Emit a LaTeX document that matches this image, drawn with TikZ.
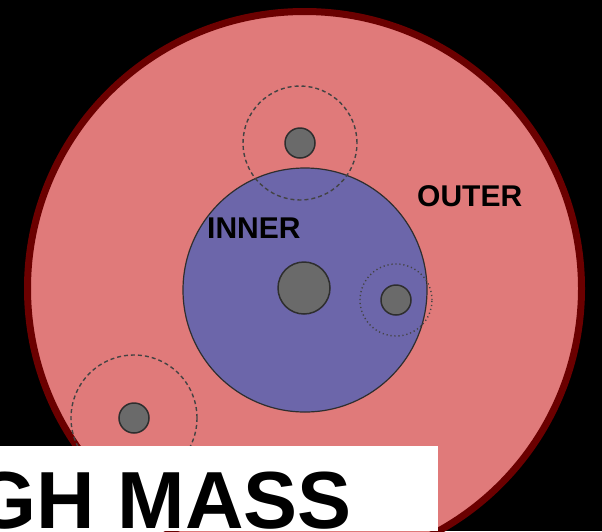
\documentclass[tikz,border=0pt]{standalone}
\usepackage{fontspec}
\setmainfont{Liberation Sans}
\usetikzlibrary{positioning}
\definecolor{ShellRed}{HTML}{E07A7A}
\definecolor{ShellEdge}{HTML}{6B0000}
\definecolor{CoreBlue}{HTML}{6C66AA}
\definecolor{BodyGray}{HTML}{6A6A6A}
\definecolor{LineDark}{HTML}{2E2E2E}
\tikzset{
  shell/.style={circle, draw=ShellEdge, fill=ShellRed, line width=7pt, inner sep=0pt},
  core/.style={circle, draw=LineDark, fill=CoreBlue, line width=1.2pt, inner sep=0pt},
  body/.style={circle, draw=LineDark, fill=BodyGray, line width=1.5pt, inner sep=0pt},
  reach/.style={circle, draw=LineDark!90, line width=1.4pt, inner sep=0pt,
                dash pattern=on 4pt off 3pt},
  reachdot/.style={circle, draw=LineDark!90, line width=1.4pt, inner sep=0pt,
                   dash pattern=on 1.2pt off 2.8pt},
  zonelabel/.style={font=\fontsize{30}{30}\selectfont\bfseries, text=black,
                    inner sep=0pt, anchor=base west},
  banner/.style={font=\fontsize{81}{81}\selectfont\bfseries, text=black,
                 inner sep=0pt, anchor=base east},
}

\begin{document}
\begin{tikzpicture}[x=1pt, y=-1pt]

  \fill[black] (0,0) rectangle (602,531);
  \useasboundingbox (0,0) rectangle (602,531);

  % the two zones
  \node[shell, minimum size=554pt] (outer) at (304.5,288.5) {};
  \node[core, minimum size=244pt] (inner) at (305,290) {};
  \node[body, minimum size=52pt] (centre) at (304,288) {};

  % orbiting bodies and their reach
  \node[reach, minimum size=114pt] (ringtop) at (300,143) {};
  \node[body, minimum size=30pt] (bodytop) at (ringtop) {};
  \node[reachdot, minimum size=72pt] (ringright) at (396,300) {};
  \node[body, minimum size=30pt] (bodyright) at (ringright) {};
  \node[reach, minimum size=126pt] (ringlow) at (134,418) {};
  \node[body, minimum size=30pt] (bodylow) at (ringlow) {};

  \node[zonelabel] (innerlabel) at (207,238) {INNER};
  \node[zonelabel] (outerlabel) at (417,206) {OUTER};

  % title strip
  \fill[white] (0,446) rectangle (438,531);
  \node[banner] (title) at (352,528) {GH MASS};

\end{tikzpicture}
\end{document}
